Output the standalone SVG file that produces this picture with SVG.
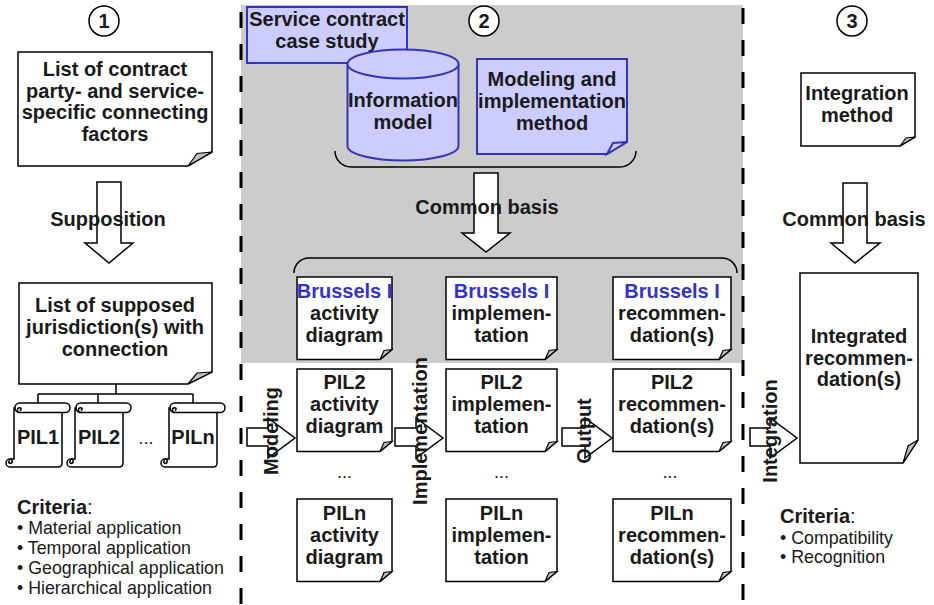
<svg xmlns="http://www.w3.org/2000/svg" width="934" height="605" viewBox="0 0 934 605">
<style>
.t{font-family:"Liberation Sans",Arial,sans-serif;font-weight:bold;font-size:20px;fill:#1a1a1a;text-anchor:middle}
.r{font-family:"Liberation Sans",Arial,sans-serif;font-size:17.8px;fill:#1a1a1a}
.bl{fill:#3333cc}
.doc{fill:#fff;stroke:#000;stroke-width:1.5}
.fold{fill:#c0c0c0;stroke:#000;stroke-width:1.2}
.blue{fill:#ccccff;stroke:#3333bb;stroke-width:2}
.arr{fill:#fff;stroke:#000;stroke-width:1.5}
.ln{fill:none;stroke:#000;stroke-width:1.5}
.dash{fill:none;stroke:#000;stroke-width:3;stroke-dasharray:16 16}
.circ{fill:#fff;stroke:#000;stroke-width:1.5}
</style>
<defs>
<g id="scroll">
<path class="doc" d="M0,5 H48 V60 Q48,64 44,64 H-4 A4,4 0 0 1 -4,56 H0 Z"/>
<path class="ln" d="M-4,56 A2.2,2.2 0 0 1 -4,60.4 A1.3,1.3 0 0 1 -4,57.8"/>
<rect class="doc" x="1" y="0" width="55" height="9.5" rx="4.75"/>
<path class="ln" d="M5.75,9.5 A2.4,2.4 0 0 1 5.75,4.7 A1.4,1.4 0 0 1 5.75,7.5"/>
</g>
</defs>
<rect id="phase2-bg" x="241" y="5" width="502" height="358" fill="#cccccc"/>
<g id="separators">
<line class="dash" x1="241" y1="12" x2="241" y2="605"/>
<line class="dash" x1="743" y1="8" x2="743" y2="605"/>
</g>
<g id="circle1"><circle class="circ" cx="104" cy="21" r="15"/><text class="t" x="104" y="28">1</text></g>
<g id="circle2"><circle class="circ" cx="484" cy="21" r="15"/><text class="t" x="484" y="28">2</text></g>
<g id="circle3"><circle class="circ" cx="852" cy="21" r="15"/><text class="t" x="852" y="28">3</text></g>

<g id="connectors">
<path class="arr" d="M97,182 H121 V243 H133 L109,263 L85,243 H97 Z"/>
<path class="arr" d="M474,173 H498 V233 H510 L486,252 L462,233 H474 Z"/>
<path class="arr" d="M843,183 H867 V243 H880 L855,263 L831,243 H843 Z"/>
<path class="arr" d="M247,428 H268 V418 L295,438 L268,458 V446 H247 Z"/>
<path class="arr" d="M395,428 H416 V418 L443,438 L416,458 V446 H395 Z"/>
<path class="arr" d="M562,428 H585 V418 L612,438 L585,458 V446 H562 Z"/>
<path class="arr" d="M750,428 H770 V418 L797,438 L770,458 V446 H750 Z"/>
<path class="ln" d="M116,384 V394 M38,394 H193 M38,394 V403 M98,394 V403 M193,394 V403"/>
<path class="ln" d="M335,151 A16,16 0 0 0 351,167 H620 A16,16 0 0 0 636,151"/>
<path class="ln" d="M294,273 A15,15 0 0 1 309,258 H722 A15,15 0 0 1 737,273"/>
<text class="t" x="108" y="226">Supposition</text>
<text class="t" x="487" y="214">Common basis</text>
<text class="t" x="854" y="226">Common basis</text>
<text class="t" transform="translate(278,431) rotate(-90)">Modeling</text>
<text class="t" transform="translate(427,431) rotate(-90)">Implementation</text>
<text class="t" transform="translate(591,431) rotate(-90)">Output</text>
<text class="t" transform="translate(777,431) rotate(-90)">Integration</text>
</g>

<g id="contract-factors">
<path class="doc" d="M18,52 H212 V152 L188,166 H18 Z"/>
<path class="fold" d="M188,166 L212,152 L197,153.5 Z"/>
<text class="t" x="115" y="76">List of contract</text>
<text class="t" x="115" y="97.5">party- and service-</text>
<text class="t" x="115" y="119">specific connecting</text>
<text class="t" x="115" y="141">factors</text>
</g>
<g id="supposed-jurisdictions">
<path class="doc" d="M19,283 H212 V372 L188,384 H19 Z"/>
<path class="fold" d="M188,384 L212,372 L197,373 Z"/>
<text class="t" x="115" y="312">List of supposed</text>
<text class="t" x="115" y="334">jurisdiction(s) with</text>
<text class="t" x="115" y="356">connection</text>
</g>
<g id="pil1"><use href="#scroll" x="14" y="403"/><text class="t" x="38" y="444">PIL1</text></g>
<g id="pil2"><use href="#scroll" x="75" y="403"/><text class="t" x="99" y="444">PIL2</text></g>
<text class="r" x="146" y="444" text-anchor="middle">...</text>
<g id="piln"><use href="#scroll" x="169" y="403"/><text class="t" x="193" y="444">PILn</text></g>
<g id="criteria1">
<text class="r" x="17" y="514"><tspan font-weight="bold" font-size="20">Criteria</tspan><tspan font-size="20">:</tspan></text>
<text class="r" x="17" y="534">• Material application</text>
<text class="r" x="17" y="554">• Temporal application</text>
<text class="r" x="17" y="574">• Geographical application</text>
<text class="r" x="17" y="594">• Hierarchical application</text>
</g>

<g id="case-study">
<rect class="blue" x="247" y="7" width="160" height="56"/>
<text class="t" x="327" y="26">Service contract</text>
<text class="t" x="327" y="48">case study</text>
</g>
<g id="information-model">
<path class="blue" d="M347.5,64 A55.5,14.5 0 0 1 458.5,64 V146 A55.5,14.5 0 0 1 347.5,146 Z"/>
<path class="blue" d="M347.5,64 A55.5,14.5 0 0 0 458.5,64" fill="none"/>
<text class="t" x="403" y="107">Information</text>
<text class="t" x="403" y="128.5">model</text>
</g>
<g id="modeling-method">
<path class="blue" d="M477,59 H627 V142 L607,154 H477 Z"/>
<path class="blue" d="M607,154 L627,142 L613,143 Z"/>
<text class="t" x="552" y="86">Modeling and</text>
<text class="t" x="552" y="107.5">implementation</text>
<text class="t" x="552" y="129.5">method</text>
</g>

<g id="bi-activity">
<path class="doc" d="M297,277 H392 V349.5 L380,359.5 H297 Z"/><path class="fold" d="M380,359.5 L392,349.5 L384,350.5 Z"/>
<text class="t bl" x="344.5" y="297.5">Brussels I</text>
<text class="t" x="344.5" y="319.5">activity</text>
<text class="t" x="344.5" y="341.5">diagram</text>
</g>
<g id="bi-implementation">
<path class="doc" d="M446,277 H557 V349.5 L545,359.5 H446 Z"/><path class="fold" d="M545,359.5 L557,349.5 L549,350.5 Z"/>
<text class="t bl" x="501.5" y="297.5">Brussels I</text>
<text class="t" x="501.5" y="319.5">implemen-</text>
<text class="t" x="501.5" y="341.5">tation</text>
</g>
<g id="bi-recommendation">
<path class="doc" d="M613,277 H731 V349.5 L719,359.5 H613 Z"/><path class="fold" d="M719,359.5 L731,349.5 L723,350.5 Z"/>
<text class="t bl" x="672" y="297.5">Brussels I</text>
<text class="t" x="672" y="319.5">recommen-</text>
<text class="t" x="672" y="341.5">dation(s)</text>
</g>
<g id="pil2-activity">
<path class="doc" d="M297,369 H392 V441.5 L380,451.5 H297 Z"/><path class="fold" d="M380,451.5 L392,441.5 L384,442.5 Z"/>
<text class="t" x="344.5" y="389">PIL2</text>
<text class="t" x="344.5" y="411">activity</text>
<text class="t" x="344.5" y="433">diagram</text>
</g>
<g id="pil2-implementation">
<path class="doc" d="M446,369 H557 V441.5 L545,451.5 H446 Z"/><path class="fold" d="M545,451.5 L557,441.5 L549,442.5 Z"/>
<text class="t" x="501.5" y="389">PIL2</text>
<text class="t" x="501.5" y="411">implemen-</text>
<text class="t" x="501.5" y="433">tation</text>
</g>
<g id="pil2-recommendation">
<path class="doc" d="M613,369 H731 V441.5 L719,451.5 H613 Z"/><path class="fold" d="M719,451.5 L731,441.5 L723,442.5 Z"/>
<text class="t" x="672" y="389">PIL2</text>
<text class="t" x="672" y="411">recommen-</text>
<text class="t" x="672" y="433">dation(s)</text>
</g>
<text class="r" x="344.5" y="478" text-anchor="middle">...</text>
<text class="r" x="501.5" y="478" text-anchor="middle">...</text>
<text class="r" x="670" y="478" text-anchor="middle">...</text>
<g id="piln-activity">
<path class="doc" d="M297,499 H392 V571.5 L380,581.5 H297 Z"/><path class="fold" d="M380,581.5 L392,571.5 L384,572.5 Z"/>
<text class="t" x="344.5" y="520">PILn</text>
<text class="t" x="344.5" y="542">activity</text>
<text class="t" x="344.5" y="564">diagram</text>
</g>
<g id="piln-implementation">
<path class="doc" d="M446,499 H557 V571.5 L545,581.5 H446 Z"/><path class="fold" d="M545,581.5 L557,571.5 L549,572.5 Z"/>
<text class="t" x="501.5" y="520">PILn</text>
<text class="t" x="501.5" y="542">implemen-</text>
<text class="t" x="501.5" y="564">tation</text>
</g>
<g id="piln-recommendation">
<path class="doc" d="M613,499 H731 V571.5 L719,581.5 H613 Z"/><path class="fold" d="M719,581.5 L731,571.5 L723,572.5 Z"/>
<text class="t" x="672" y="520">PILn</text>
<text class="t" x="672" y="542">recommen-</text>
<text class="t" x="672" y="564">dation(s)</text>
</g>

<g id="integration-method">
<path class="doc" d="M801,73 H915 V137 L900,146 H801 Z"/><path class="fold" d="M900,146 L915,137 L906,138 Z"/>
<text class="t" x="857" y="100">Integration</text>
<text class="t" x="857" y="121.5">method</text>
</g>
<g id="integrated-recommendation">
<path class="doc" d="M800,273 H918 V440 L903,463 H800 Z"/><path class="fold" d="M903,463 L918,440 L908,446 Z"/>
<text class="t" x="859" y="343">Integrated</text>
<text class="t" x="859" y="364.5">recommen-</text>
<text class="t" x="859" y="386">dation(s)</text>
</g>
<g id="criteria3">
<text class="r" x="780" y="523"><tspan font-weight="bold" font-size="20">Criteria</tspan><tspan font-size="20">:</tspan></text>
<text class="r" x="780" y="544">• Compatibility</text>
<text class="r" x="780" y="563">• Recognition</text>
</g>
</svg>
